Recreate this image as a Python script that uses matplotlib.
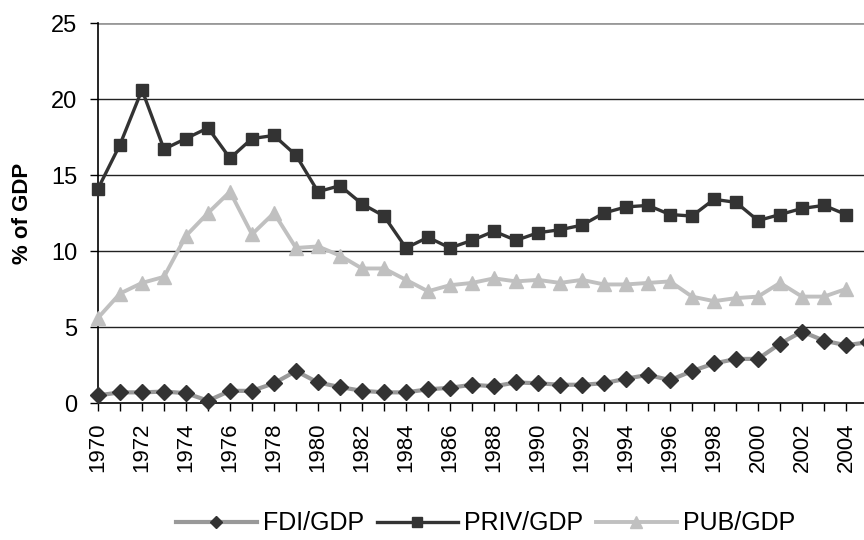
import matplotlib
matplotlib.use("Agg")
import matplotlib.pyplot as plt
from matplotlib.ticker import MultipleLocator

plt.rcParams['font.family'] = ['Liberation Sans', 'DejaVu Sans']

years = list(range(1970, 2006))

fdi_gdp = [0.5, 0.7, 0.7, 0.75, 0.65, 0.15, 0.8, 0.8, 1.3, 2.1,
           1.35, 1.05, 0.8, 0.7, 0.7, 0.9, 1.0, 1.2, 1.1, 1.35,
           1.3, 1.2, 1.2, 1.3, 1.6, 1.85, 1.5, 2.1, 2.6, 2.9,
           2.9, 3.9, 4.7, 4.1, 3.8, 4.0]

priv_gdp = [14.1, 17.0, 20.6, 16.7, 17.4, 18.1, 16.1, 17.4, 17.6, 16.3,
            13.9, 14.3, 13.1, 12.3, 10.2, 10.9, 10.2, 10.7, 11.3, 10.7,
            11.2, 11.4, 11.7, 12.5, 12.9, 13.0, 12.4, 12.3, 13.4, 13.2,
            12.0, 12.4, 12.8, 13.0, 12.4]

pub_gdp = [5.6, 7.2, 7.9, 8.3, 11.0, 12.5, 13.9, 11.1, 12.5, 10.2,
           10.3, 9.7, 8.85, 8.85, 8.1, 7.35, 7.75, 7.9, 8.2, 8.0,
           8.1, 7.9, 8.1, 7.8, 7.8, 7.9, 8.0, 7.0, 6.7, 6.9,
           7.0, 7.9, 7.0, 7.0, 7.5]

fig = plt.figure(figsize=(8.64, 5.4), dpi=100)
ax = fig.add_axes([98 / 864, 137 / 540, 770 / 864, 380 / 540])

ax.plot(years[:len(fdi_gdp)], fdi_gdp, color='#999999', lw=3.0, marker='D',
        ms=8, mfc='#333333', mec='#333333', clip_on=False, zorder=4,
        label='FDI/GDP')
ax.plot(years[:len(priv_gdp)], priv_gdp, color='#333333', lw=2.4, marker='s',
        ms=9, mfc='#333333', mec='#333333', clip_on=False, zorder=5,
        label='PRIV/GDP')
ax.plot(years[:len(pub_gdp)], pub_gdp, color='#c0c0c0', lw=2.8, marker='^',
        ms=10, mfc='#c0c0c0', mec='#c0c0c0', clip_on=False, zorder=3,
        label='PUB/GDP')

ax.set_xlim(1970, 2005)
ax.set_ylim(0, 25)
ax.yaxis.set_major_locator(MultipleLocator(5))
ax.set_xticks(years[::2])
ax.set_xticks(years, minor=True)
ax.tick_params(axis='x', which='both', direction='out', length=6, width=1,
               color='black', labelsize=16, labelrotation=90, pad=8)
ax.tick_params(axis='y', direction='out', length=6, width=1, color='black',
               labelsize=17, pad=9)

for v in [5, 10, 15, 20]:
    ax.axhline(v, color='#222222', lw=1.0, zorder=1)
ax.axhline(25, color='#999999', lw=2.0, zorder=1)

for s in ['top', 'right']:
    ax.spines[s].set_visible(False)
ax.spines['left'].set_color('black')
ax.spines['bottom'].set_color('black')
ax.spines['left'].set_linewidth(1.2)
ax.spines['bottom'].set_linewidth(1.2)

ax.set_ylabel('% of GDP', fontsize=16, fontweight='bold')
ax.yaxis.set_label_coords(-0.085, 0.5)

fig.legend(loc='center', bbox_to_anchor=(0.562, 0.031), ncol=3, frameon=False,
           fontsize=18, handlelength=3.25, columnspacing=0.5,
           handletextpad=0.25, markerscale=0.8)

fig.savefig('out.png', dpi=100)
